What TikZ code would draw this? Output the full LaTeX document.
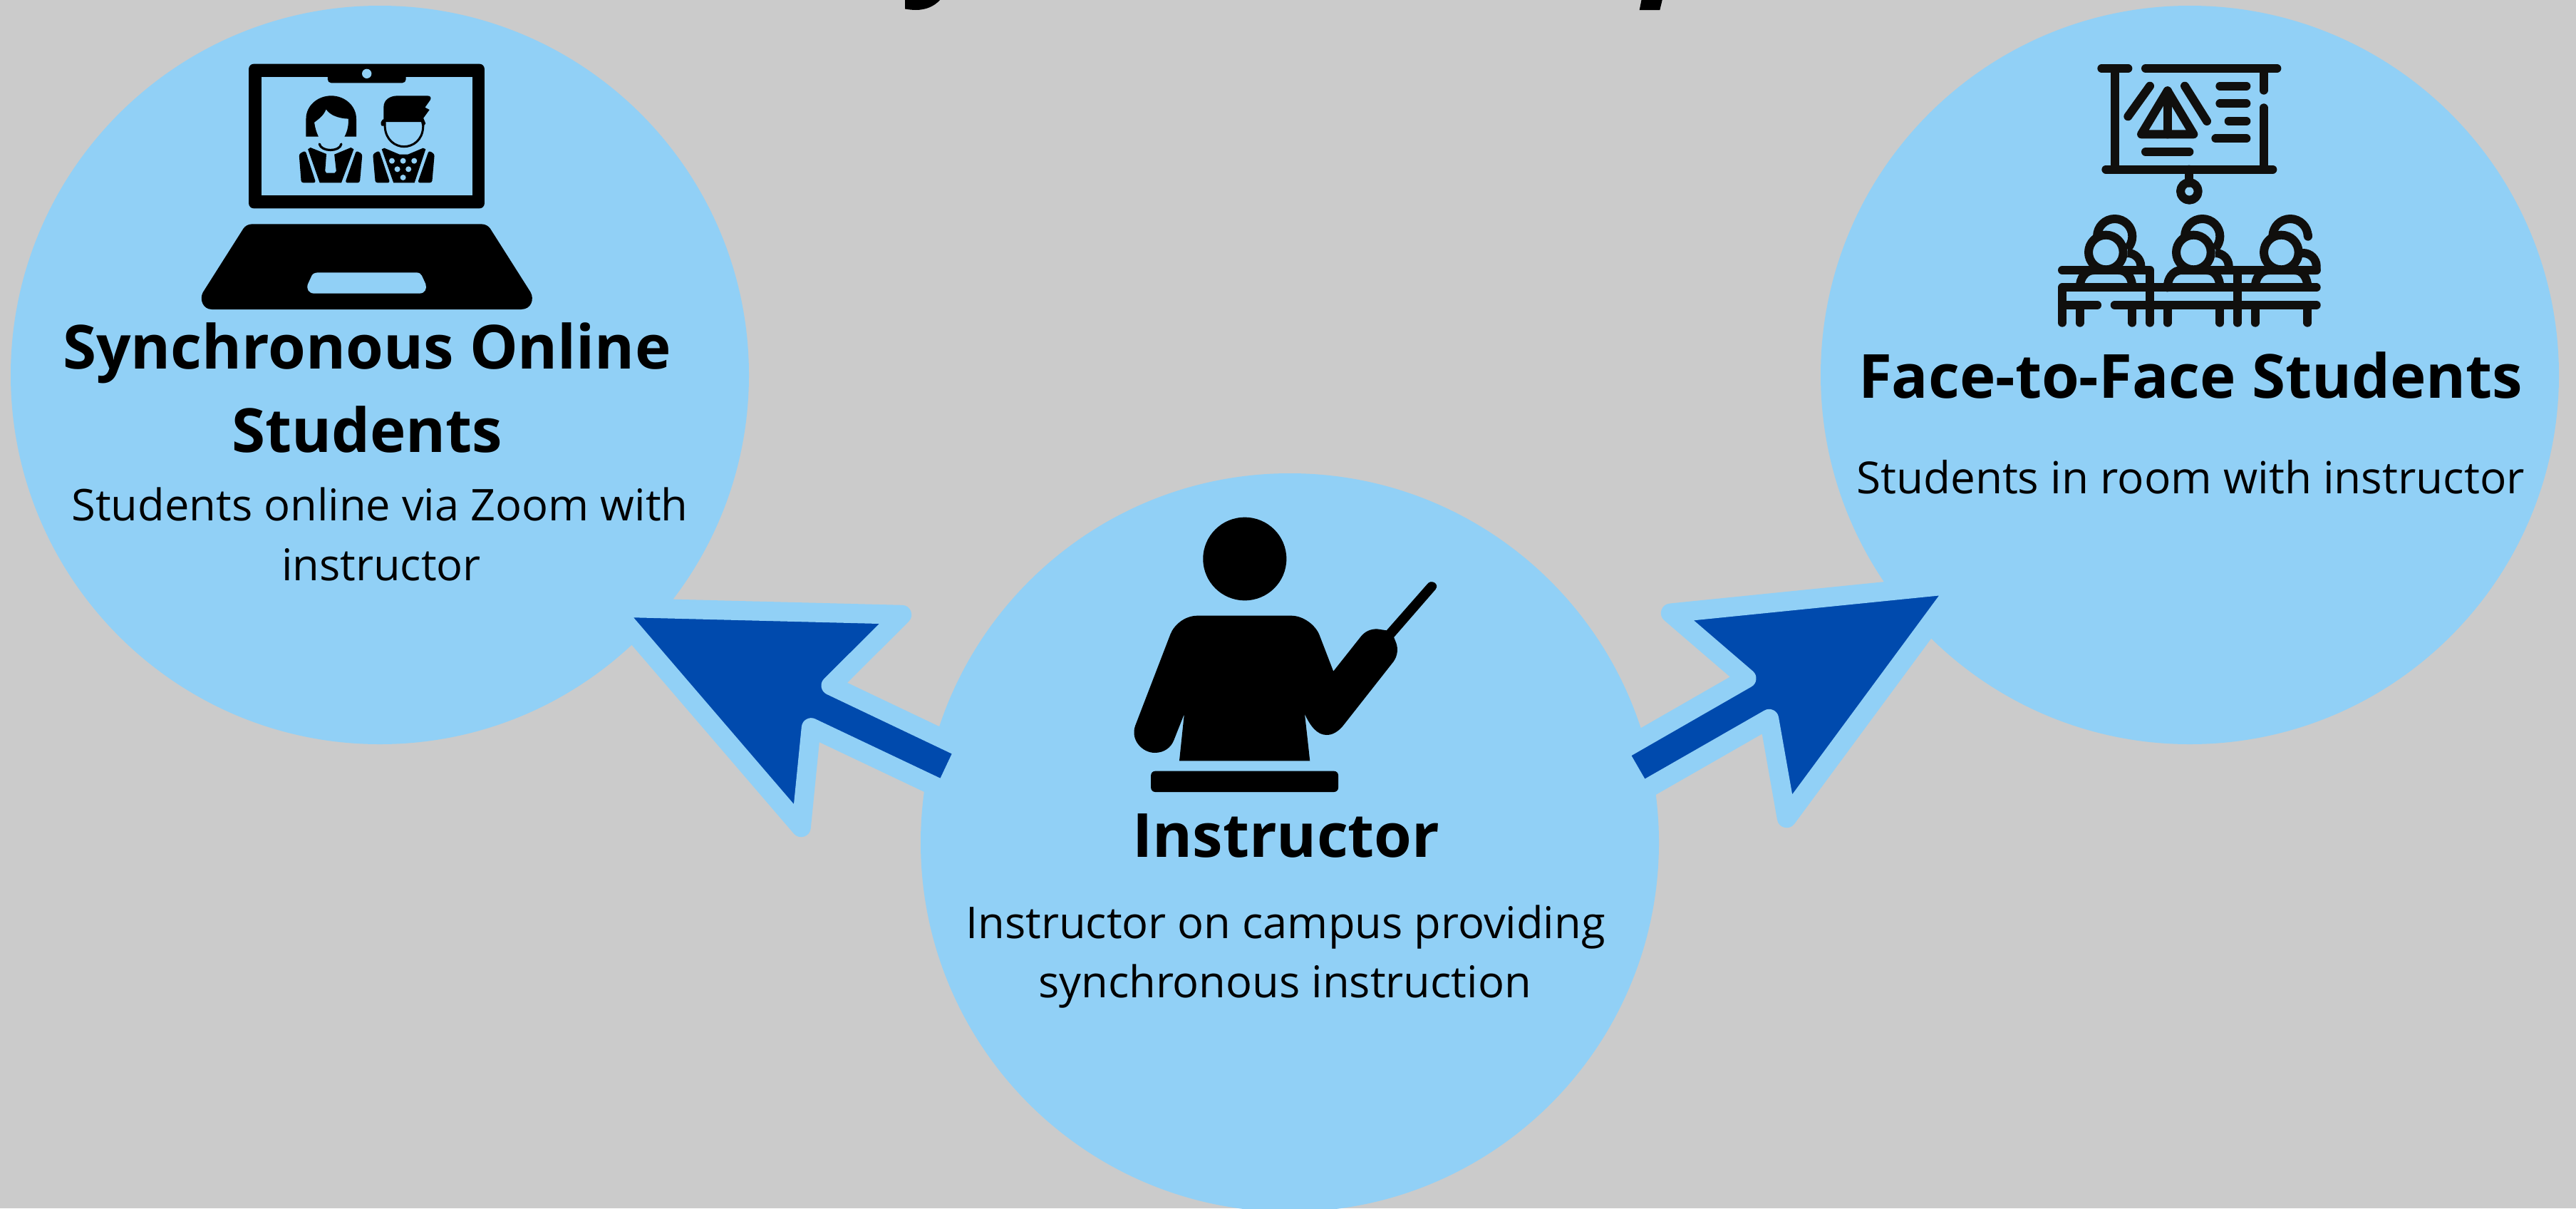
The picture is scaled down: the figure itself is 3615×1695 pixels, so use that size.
\documentclass[tikz,border=0pt]{standalone}
\usepackage{fontspec}
\setmainfont{Open Sans}
\definecolor{bgc}{RGB}{203,203,203}
\definecolor{disc}{RGB}{145,208,246}
\definecolor{arrowblue}{RGB}{0,74,173}
\definecolor{iconblack}{RGB}{16,15,13}
\tikzset{
  discnode/.style={circle,fill=disc,draw=none,minimum size=1036pt,inner sep=0pt},
  blockarrow/.style={fill=arrowblue,draw=disc,line width=27pt,line join=round},
  headtext/.style={anchor=base,inner sep=0pt,font=\fontsize{85.3}{100}\selectfont\bfseries},
  subtext/.style={anchor=base,inner sep=0pt,font=\fontsize{61.4}{80}\selectfont},
  subwide/.style={anchor=base,inner sep=0pt,font=\fontsize{62}{80}\selectfont},
  ico/.style={draw=iconblack,line width=12pt,line cap=round,line join=round},
  thinline/.style={draw=black,line width=3.2pt,line cap=round}
}
\begin{document}
\begin{tikzpicture}[x=1pt,y=-1pt]
\useasboundingbox (0,0) rectangle (3615,1695);
\clip (0,0) rectangle (3615,1695);
\fill[bgc] (0,0) rectangle (3615,1695);
% title descenders cut by the top edge
\fill[black] (1270,0) -- (1270,12.5) .. controls (1276,13.5) and (1281,14) .. (1285,14) .. controls (1299,14) and (1311,9) .. (1319,0) -- cycle;
\fill[black] (2303.5,0) -- (2300.7,14) -- (2329.3,14) -- (2332.7,0) -- cycle;
% discs
\node[discnode] (online) at (533,526) {};
\node[discnode] (face) at (3073,526) {};
\node[discnode] (instr) at (1810,1182) {};
% arrows
\draw[blockarrow] (859,852) -- (1265.7,862.3) -- (1166,961.7) -- (1353.7,1051) -- (1326,1109.7) -- (1138.3,1020.7) -- (1124.3,1160.7) -- cycle;
\draw[blockarrow] (2750,819) -- (2344.3,860) -- (2451,951.7) -- (2271,1055) -- (2303.3,1111) -- (2482.7,1008.3) -- (2507.3,1147.7) -- cycle;
% laptop icon
\begin{scope}[shift={(200,0)},x=0.44643pt,y=-0.33333pt]
  \fill[black,rounded corners=7pt] (334,269) rectangle (1075,877);
  \fill[disc] (373,323) rectangle (1036,823);
  \fill[black,rounded corners=5pt] (582,310) -- (582,349) -- (828,349) -- (828,310) -- cycle;
  \fill[disc] (705,310) ellipse [x radius=15,y radius=20];
  \fill[black] (345,943) -- (1065,943) .. controls (1078,943) and (1088,952) .. (1093,962) -- (1220,1230) .. controls (1232,1260) and (1222,1302) .. (1190,1302) -- (218,1302) .. controls (190,1302) and (178,1260) .. (190,1230) -- (317,962) .. controls (322,952) and (332,943) .. (345,943) -- cycle;
  \fill[disc] (552,1147) -- (860,1147) .. controls (870,1147) and (875,1152) .. (878,1160) -- (890,1195) .. controls (895,1215) and (888,1235) .. (870,1235) -- (540,1235) .. controls (522,1235) and (514,1215) .. (520,1195) -- (532,1160) .. controls (535,1152) and (542,1147) .. (552,1147) -- cycle;
  % woman
  \fill[black] (514,575) -- (514,500) .. controls (514,445) and (550,403) .. (593,403) .. controls (636,403) and (672,445) .. (672,500) -- (672,575) -- (635,575) .. controls (645,550) and (648,525) .. (647,500) .. controls (615,498) and (590,485) .. (577,460) .. controls (570,485) and (555,500) .. (540,515) .. controls (542,535) and (546,555) .. (553,575) -- cycle;
  \draw[thinline] (556,606) .. controls (562,640) and (620,640) .. (625,606);
  \fill[black,rounded corners=3pt] (512,634) -- (492,648) -- (499,769) -- (545,769) -- cycle;
  \fill[black,rounded corners=3pt] (672,634) -- (691,648) -- (683,769) -- (637,769) -- cycle;
  \fill[black] (520,628) -- (528,621) -- (578,648) -- (574,720) -- (578,728) -- (604,728) -- (609,720) -- (603,650) -- (655,621) -- (664,628) -- (625,769) -- (557,769) -- cycle;
  % man
  \fill[black] (758,513) -- (758,450) .. controls (758,420) and (778,403) .. (802,403) -- (895,403) .. controls (905,403) and (908,410) .. (905,420) -- (888,452) -- (902,462) -- (883,497) -- (890,520) -- (880,535) -- (876,513) -- cycle;
  \fill[black] (752,530) .. controls (746,520) and (750,508) .. (758,500) -- (762,530) -- cycle;
  \draw[thinline,line width=3pt] (762,515) -- (762,535) .. controls (765,590) and (795,617) .. (822,617) .. controls (850,617) and (880,590) .. (882,535) -- (882,515);
  \fill[black,rounded corners=3pt] (744,634) -- (724,648) -- (732,769) -- (778,769) -- cycle;
  \fill[black,rounded corners=3pt] (900,634) -- (918,648) -- (910,769) -- (865,769) -- cycle;
  \fill[black] (752,628) -- (760,623) -- (808,650) -- (834,650) -- (882,623) -- (890,628) -- (855,769) -- (789,769) -- cycle;
  \foreach \dx/\dy in {784/677,819/677,854/677,801/712,836/712,819/747}
    \fill[disc] (\dx,\dy) ellipse [x radius=9,y radius=12];
\end{scope}
% classroom icon
\begin{scope}[shift={(2820,50)},x=0.33333pt,y=-0.33333pt]
  \draw[ico] (388,138) -- (499,138);
  \draw[ico] (573,138) -- (1126,138);
  \draw[ico] (443,138) -- (443,563);
  \draw[ico] (1070,138) -- (1070,230);
  \draw[ico] (1070,304) -- (1070,563);
  \draw[ico] (406,563) -- (1108,563);
  \draw[ico] (757,563) -- (757,620);
  \draw[ico] (757,655) circle [radius=37];
  \draw[ico] (499,340) -- (591,212);
  \draw[ico] (738,212) -- (831,360);
  \draw[ico] (665,232) -- (555,415) -- (775,415) -- cycle;
  \draw[ico] (665,232) -- (665,415);
  \draw[ico] (573,489) -- (757,489);
  \draw[ico] (886,212) -- (997,212);
  \draw[ico] (886,286) -- (997,286);
  \draw[ico] (923,360) -- (997,360);
  \draw[ico] (868,433) -- (997,433);
  % students
  \draw[ico,line cap=butt] (369,845) arc [start angle=180,end angle=-45,x radius=74,y radius=-74];
  \draw[ico,line cap=butt] (738,845) arc [start angle=180,end angle=-45,x radius=74,y radius=-74];
  \draw[ico,line cap=butt] (1108,845) arc [start angle=180,end angle=0,x radius=74,y radius=-74];
  \draw[ico] (1256,845) -- (1256,840);
  \foreach \hx in {406,775,1144}
    \draw[ico] (\hx,912) circle [radius=73];
  \draw[ico,line cap=butt] (497,915) .. controls (528,915) and (553,940) .. (553,970) -- (553,987);
  \draw[ico,line cap=butt] (867,915) .. controls (898,915) and (923,940) .. (923,970) -- (923,987);
  \draw[ico] (1236,915) .. controls (1267,915) and (1292,940) .. (1292,970) -- (1292,987);
  \draw[ico] (222,987) -- (591,987) -- (591,1208);
  \draw[ico] (665,1060) .. controls (665,1020) and (690,987) .. (725,987) -- (1292,987);
  \draw[ico,line cap=butt] (296,1060) .. controls (296,1020) and (320,987) .. (355,987);
  \draw[ico,line cap=butt] (517,1060) .. controls (517,1020) and (495,987) .. (460,987);
  \draw[ico,line cap=butt] (886,1060) .. controls (886,1020) and (865,987) .. (830,987);
  \draw[ico,line cap=butt] (1034,1060) .. controls (1034,1020) and (1058,987) .. (1093,987);
  \draw[ico,line cap=butt] (1255,1060) .. controls (1255,1020) and (1234,987) .. (1200,987);
  \draw[ico] (222,1208) -- (222,1060) -- (1292,1060);
  \draw[ico] (222,1134) -- (369,1134);
  \draw[ico] (443,1134) -- (1292,1134);
  \draw[ico] (960,987) -- (960,1208);
  \foreach \lx in {296,517,665,886,1034,1255}
    \draw[ico] (\lx,1134) -- (\lx,1208);
\end{scope}
% instructor icon
\begin{scope}[shift={(1500,680)},x=0.38265pt,y=-0.33333pt]
  \fill[black] (645,312) ellipse [x radius=153,y radius=175];
  \fill[black] (472,551) -- (815,551) .. controls (860,551) and (903,590) .. (918,630) -- (970,785) -- (1070,640) .. controls (1085,618) and (1105,607) .. (1130,607) -- (1165,613) -- (1316,416) .. controls (1328,398) and (1360,415) .. (1345,440) -- (1192,642) -- (1200,665) .. controls (1208,690) and (1206,720) .. (1190,745) -- (1005,1015) .. controls (985,1042) and (965,1053) .. (945,1053) .. controls (910,1053) and (885,1015) .. (865,965) -- (884,1162) -- (405,1162) -- (423,965) -- (385,1075) .. controls (375,1105) and (350,1128) .. (315,1128) .. controls (270,1128) and (225,1075) .. (243,1015) -- (372,630) .. controls (385,590) and (425,551) .. (472,551) -- cycle;
  \fill[black,rounded corners=6pt] (301,1205) rectangle (988,1293);
\end{scope}
% texts
\node[headtext] (t1) at (515,517) {Synchronous Online};
\node[headtext] (t2) at (515,634) {Students};
\node[subtext] (t3) at (533,730) {Students online via Zoom with};
\node[subtext] (t4) at (535,814) {instructor};
\node[headtext] (t5) at (3074,558) {Face-to-Face Students};
\node[subwide] (t6) at (3074,692) {Students in room with instructor};
\node[headtext] (t7) at (1805,1202) {Instructor};
\node[subtext] (t8) at (1804,1316) {Instructor on campus providing};
\node[subtext] (t9) at (1803,1399) {synchronous instruction};
\end{tikzpicture}
\end{document}
